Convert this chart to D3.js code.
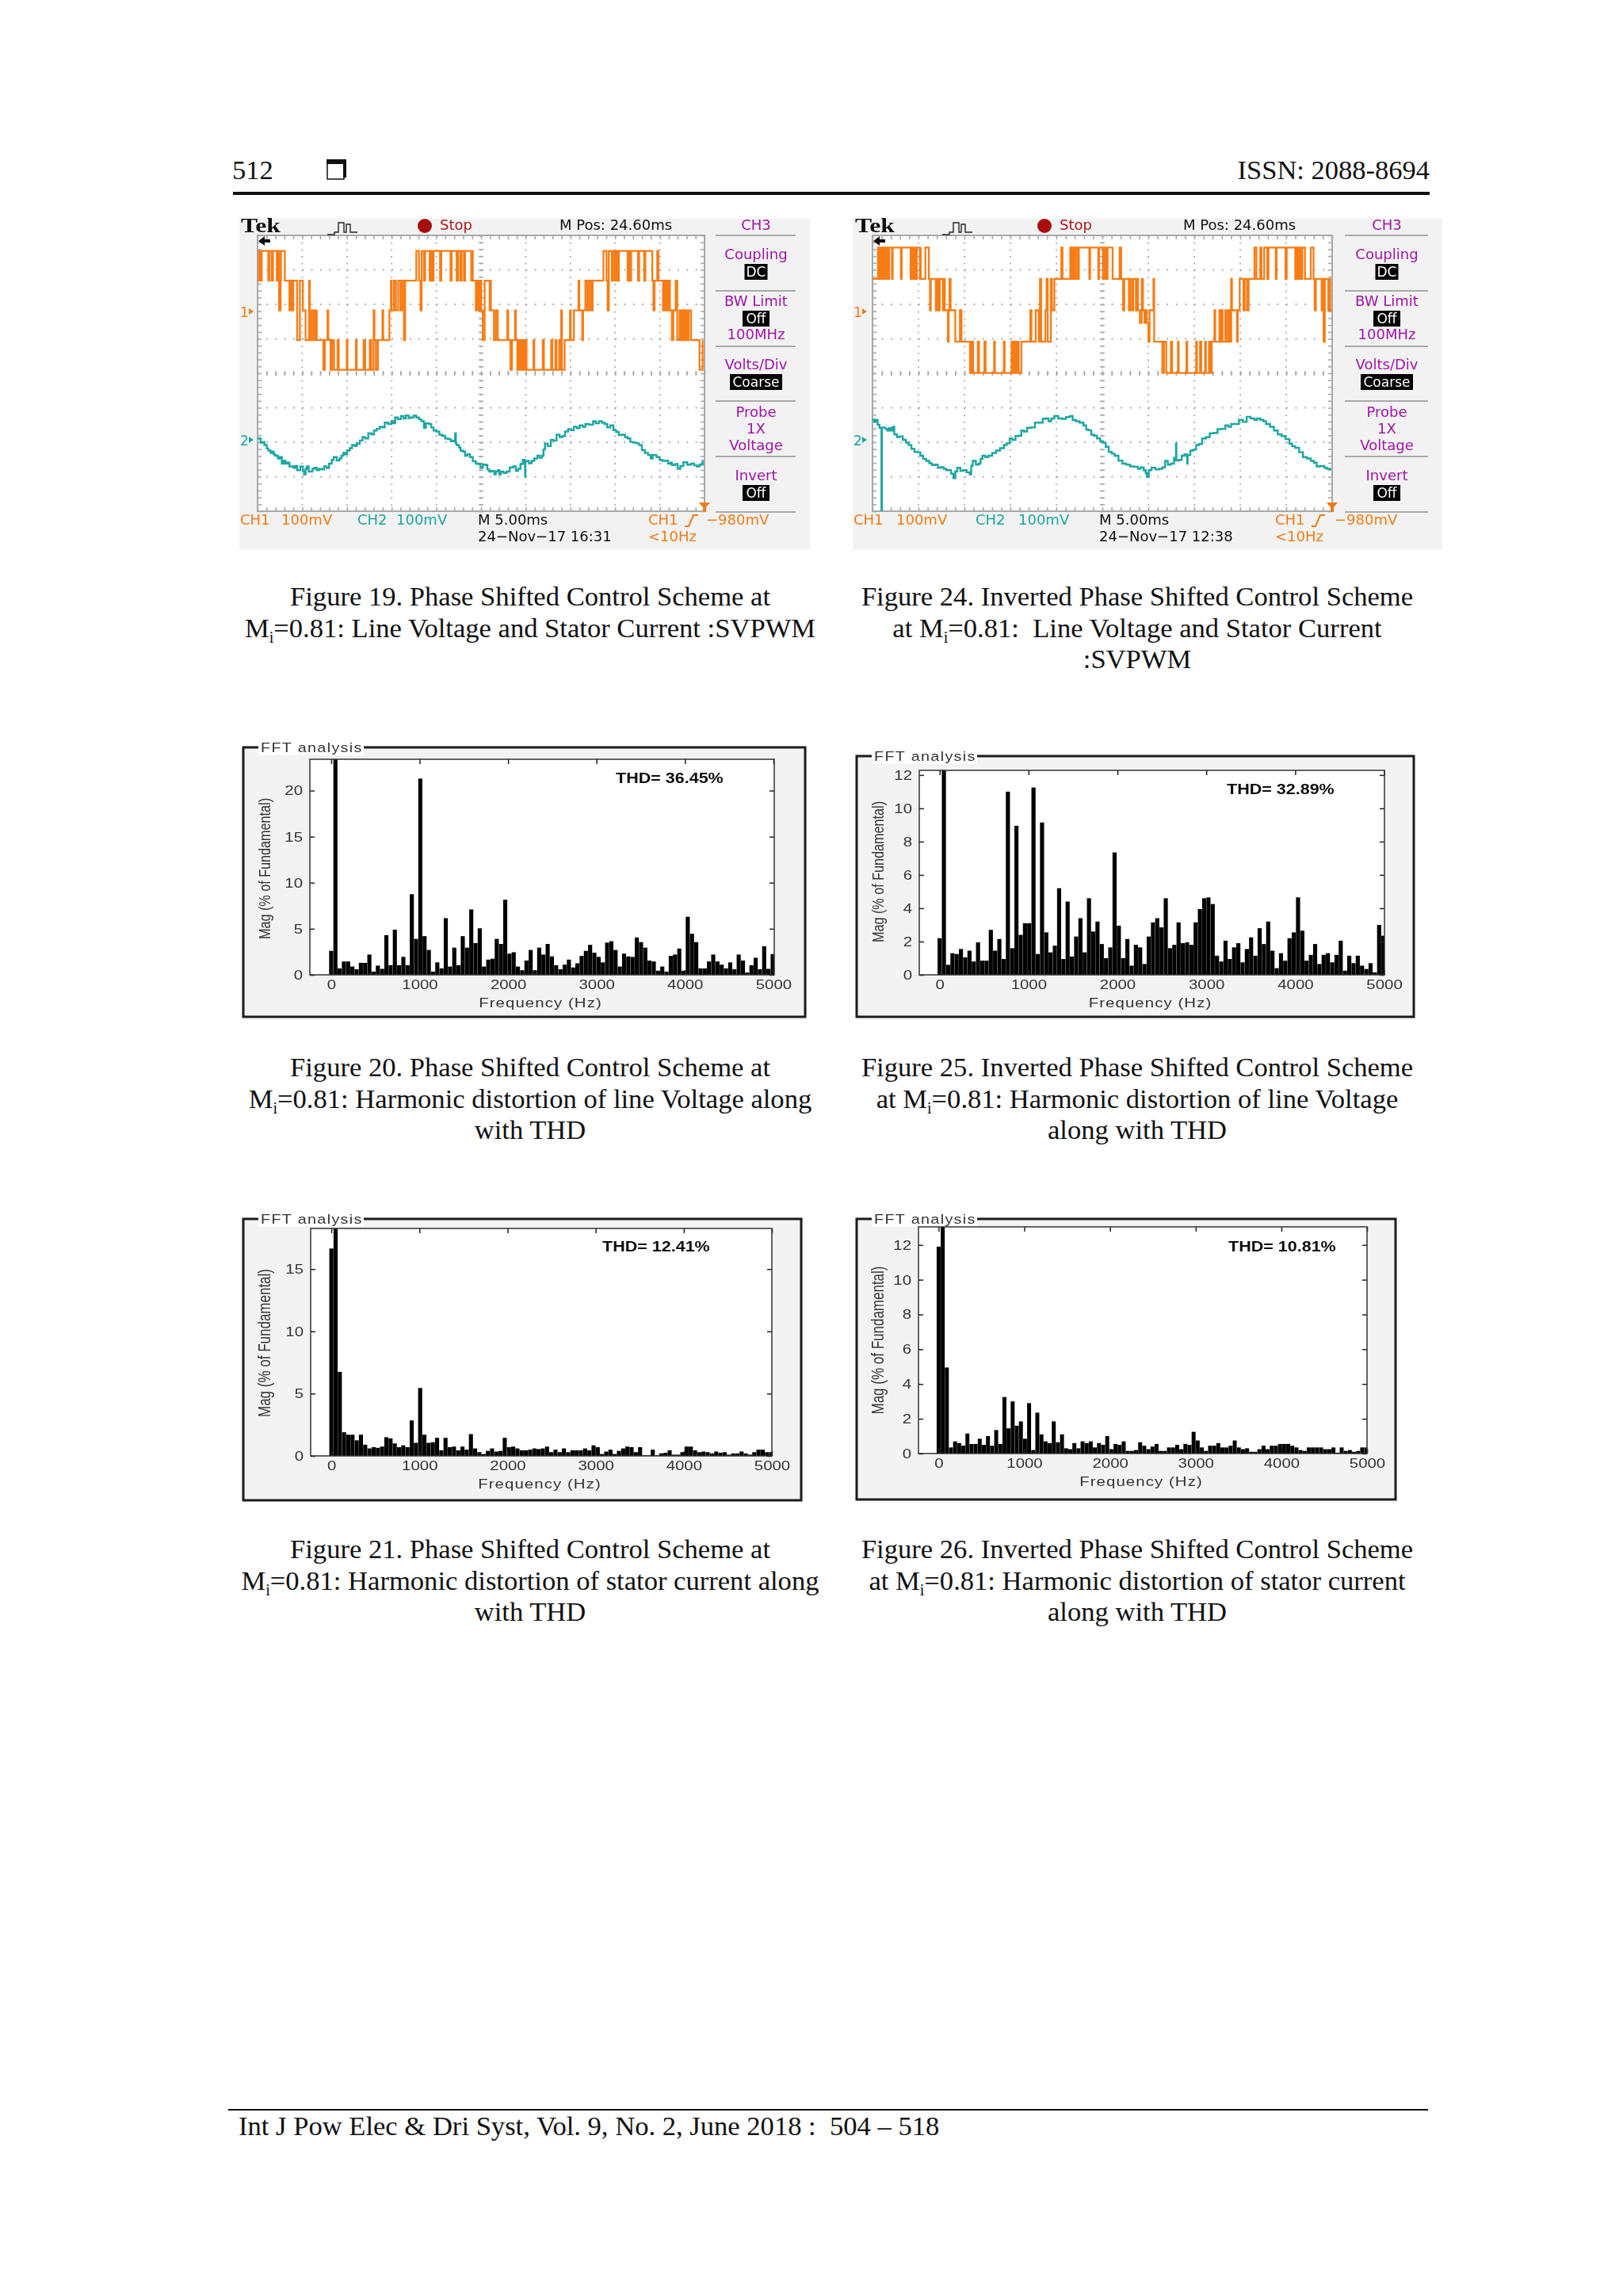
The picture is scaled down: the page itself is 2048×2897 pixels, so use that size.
<!DOCTYPE html>
<html><head><meta charset="utf-8">
<script src="https://cdnjs.cloudflare.com/ajax/libs/d3/7.8.5/d3.min.js"></script>
<style>
html,body{margin:0;padding:0;background:#fff}
svg{display:block}
</style></head><body>
<svg id="page" width="2048" height="2897"></svg>
<script>
// ---- FFT spectra: magnitude (% of fundamental) for consecutive 48 Hz bins, 100 = off-scale fundamental
const fft20 = [2.6,100,0.7,1.45,1.45,0.9,0.6,1.3,1.3,2.2,0.35,1.0,0.65,4.3,1.05,4.9,1.05,1.95,1.05,8.75,3.9,21.3,4.2,2.7,0.35,1.35,0.7,6.15,0.9,2.95,1.05,4.2,2.95,7.1,3.45,5.05,0.9,1.65,1.75,3.9,3.35,8.15,2.3,2.45,0.9,0.5,1.55,2.7,0.5,2.95,2.2,3.35,2.0,1.05,0.6,1.1,1.65,0.8,1.25,2.05,2.6,3.25,2.4,1.95,1.35,3.5,3.65,2.7,0.9,2.3,2.0,1.95,4.05,3.55,2.95,1.55,1.45,0.45,0.9,0.35,2.05,2.2,2.85,0.45,6.3,4.45,3.55,0.7,0.7,1.45,2.2,1.45,1.1,0.7,1.35,0.6,2.2,1.55,0.25,1.05,1.85,0.6,3.1,0.65,2.25];
const fft25 = [2.2,100,0.6,1.3,1.25,1.55,1.05,1.45,0.8,1.95,0.85,0.85,2.7,1.45,2.15,0.95,11.0,1.6,8.95,2.4,3.1,3.1,11.25,1.25,9.15,2.55,1.35,1.75,5.2,0.95,4.4,1.1,2.3,3.4,1.35,4.6,2.6,3.2,1.85,1.0,1.65,7.35,2.95,1.0,2.15,0.55,1.8,1.65,0.65,2.3,3.15,3.4,2.85,4.6,1.6,1.8,3.15,1.9,1.95,1.8,3.15,3.95,4.6,4.65,4.25,1.15,0.8,2.05,0.95,1.65,1.9,0.75,1.55,2.25,1.15,2.8,1.85,3.2,1.45,0.4,1.3,0.85,2.2,2.55,4.65,2.65,0.85,1.2,1.85,0.65,1.2,1.3,0.75,1.2,2.05,0.25,1.15,0.7,1.15,0.55,0.35,0.7,0.15,3.0,2.35];
const fft21 = [16.65,100,6.75,1.9,1.7,1.7,1.25,1.7,0.9,0.6,0.7,0.65,0.75,1.5,1.4,1.0,0.7,0.85,0.7,2.85,1.05,5.45,1.7,1.05,1.1,1.45,0.45,1.45,0.7,0.75,0.45,0.75,0.5,1.75,0.6,0.3,0.15,0.4,0.6,0.35,0.4,1.45,0.7,0.75,0.6,0.45,0.45,0.5,0.6,0.55,0.6,0.75,0.3,0.5,0.3,0.6,0.3,0.45,0.45,0.45,0.6,0.45,0.85,0.7,0.15,0.35,0.5,0.15,0.4,0.6,0.75,0.7,0.3,0.7,0.05,0.05,0.5,0.05,0.2,0.25,0.45,0.1,0.1,0.3,0.75,0.75,0.45,0.3,0.35,0.3,0.2,0.35,0.25,0.3,0.1,0.2,0.2,0.35,0.2,0.1,0.3,0.5,0.5,0.3,0.3];
const fft26 = [11.9,100,4.95,0.35,0.7,0.6,0.45,1.15,0.55,0.55,0.85,0.5,1.0,0.45,1.35,0.55,3.25,1.45,3.0,1.6,1.85,0.85,2.9,0.2,2.35,1.1,0.7,0.6,1.85,0.65,1.1,0.3,0.25,0.6,0.3,0.7,0.6,0.7,0.35,0.6,0.5,1.0,0.25,0.55,0.5,0.7,0.15,0.15,0.2,0.65,0.45,0.25,0.4,0.55,0.15,0.15,0.35,0.35,0.5,0.25,0.55,0.5,1.25,0.75,0.35,0.15,0.45,0.45,0.6,0.35,0.35,0.45,0.75,0.35,0.25,0.3,0.1,0.1,0.25,0.45,0.25,0.45,0.45,0.55,0.55,0.55,0.45,0.35,0.2,0.15,0.35,0.35,0.35,0.35,0.25,0.25,0.35,0.05,0.35,0.15,0.2,0.1,0.15,0.35,0.35];
const freqTicks = [0,1000,2000,3000,4000,5000];
const magTicks20 = [0,5,10,15,20];
const magTicks25 = [0,2,4,6,8,10,12];
const magTicks21 = [0,5,10,15];
const magTicks26 = [0,2,4,6,8,10,12];

// ---- Oscilloscope traces. CH1: [record sample, inverter voltage level 0..4] step events
const ch1Fig19 = [[0,3],[4,4],[8,3],[11,4],[28,3],[31,4],[37,3],[40,4],[50,3],[53,4],[56,2],[60,3],[61,4],[71,3],[83,2],[86,3],[90,2],[93,3],[103,1],[110,3],[118,2],[125,1],[134,3],[136,1],[141,2],[146,1],[150,2],[154,1],[171,0],[175,1],[182,2],[184,1],[190,0],[194,1],[199,0],[208,1],[211,0],[232,1],[234,0],[256,1],[258,0],[276,1],[280,0],[292,1],[296,0],[302,2],[304,1],[308,0],[313,1],[325,2],[327,1],[343,2],[347,3],[349,2],[355,3],[360,2],[366,3],[372,2],[376,3],[381,1],[384,3],[413,4],[420,3],[424,2],[427,4],[433,3],[436,4],[448,3],[451,4],[454,3],[458,4],[475,3],[478,4],[502,3],[505,4],[518,3],[522,4],[528,3],[531,4],[537,3],[540,4],[556,3],[558,4],[560,3],[568,2],[572,3],[576,2],[580,3],[582,2],[586,1],[591,3],[604,2],[606,3],[607,2],[615,1],[620,2],[625,1],[650,2],[652,1],[658,0],[662,1],[670,2],[672,1],[676,0],[680,1],[683,0],[685,1],[688,0],[691,1],[694,0],[697,1],[700,0],[718,1],[720,0],[742,1],[745,0],[764,1],[767,0],[775,1],[778,0],[785,1],[788,0],[790,2],[792,0],[799,1],[813,2],[815,1],[823,2],[835,3],[837,2],[845,1],[847,2],[853,3],[858,2],[863,3],[868,2],[872,3],[900,4],[908,3],[911,2],[914,4],[922,3],[925,4],[930,3],[934,4],[936,3],[940,4],[963,3],[966,4],[969,3],[972,4],[990,3],[993,4],[1006,3],[1009,4],[1027,3],[1030,2],[1033,3],[1040,4],[1043,3],[1055,2],[1058,3],[1060,2],[1062,3],[1066,2],[1070,3],[1073,2],[1078,1],[1082,2],[1088,3],[1092,1],[1098,2],[1102,1],[1106,2],[1110,1],[1114,2],[1118,1],[1122,2],[1128,1],[1150,0],[1158,1]];
const ch1Fig24 = [[0,3],[10,3],[14,4],[18,3],[21,4],[24,3],[26,4],[29,3],[31,4],[34,3],[36,4],[40,3],[43,4],[50,3],[52,4],[73,3],[75,4],[98,3],[101,4],[104,3],[107,4],[111,3],[114,4],[122,3],[124,4],[124,3],[136,4],[145,3],[148,2],[150,3],[163,2],[166,3],[170,2],[173,3],[181,2],[184,3],[186,2],[194,1],[196,2],[198,3],[201,2],[213,1],[225,2],[229,1],[251,0],[255,1],[259,0],[271,1],[274,0],[288,1],[291,0],[313,1],[315,0],[338,1],[340,0],[358,1],[361,0],[364,1],[366,0],[369,1],[371,0],[374,1],[376,0],[383,1],[406,2],[409,1],[420,2],[428,1],[431,3],[434,1],[445,2],[448,3],[451,1],[459,3],[462,2],[468,3],[486,4],[489,3],[509,4],[513,3],[516,4],[519,3],[523,4],[528,3],[531,4],[558,3],[560,4],[581,3],[583,4],[593,3],[595,4],[598,3],[600,4],[603,3],[605,4],[618,3],[636,4],[640,3],[645,2],[648,3],[660,2],[663,3],[668,2],[671,3],[678,2],[681,3],[683,2],[688,1.6],[693,3],[696,2],[700,1.6],[703,2],[706,1.6],[710,1],[713,2],[723,3],[725,1],[746,0],[750,1],[756,0],[768,1],[771,0],[786,1],[788,0],[808,1],[810,0],[833,1],[835,0],[843,1],[846,0],[856,1],[858,0],[866,1],[870,0],[873,1],[880,2],[882,1],[893,2],[896,1],[898,2],[901,1],[908,2],[911,1],[916,2],[920,1],[923,3],[925,2],[938,1],[940,2],[945,3],[955,2],[958,3],[964,2],[968,3],[983,4],[988,3],[998,4],[1001,3],[1008,4],[1016,3],[1019,4],[1038,3],[1040,4],[1063,3],[1066,4],[1088,3],[1091,4],[1094,3],[1096,4],[1099,3],[1101,4],[1104,3],[1106,4],[1113,3],[1128,4],[1135,3],[1138,2],[1141,3],[1156,2],[1158,3],[1161,1],[1164,3],[1173,2],[1175,3],[1178,2],[1183,2]];
// CH2: [record sample, stator current probe voltage in mV]
const ch2Fig19 = [[72,4],[80,-8],[86,-6],[90,-15],[96,-25],[100,-31],[106,-38],[110,-34],[114,-42],[118,-46],[125,-54],[130,-50],[135,-69],[140,-61],[145,-69],[150,-66],[155,-77],[165,-81],[170,-76],[175,-88],[183,-77],[190,-90],[193,-100],[197,-84],[200,-77],[205,-92],[210,-92],[215,-84],[220,-81],[226,-88],[232,-84],[238,-86],[245,-77],[252,-82],[258,-69],[265,-58],[270,-50],[278,-60],[285,-54],[290,-46],[295,-38],[300,-42],[305,-31],[312,-24],[318,-15],[325,-18],[330,-11],[338,-2],[345,8],[352,4],[360,19],[368,16],[375,27],[382,32],[390,38],[397,36],[403,50],[412,46],[420,54],[425,48],[430,65],[437,60],[445,69],[452,62],[458,71],[465,63],[470,65],[478,70],[485,65],[492,60],[498,54],[505,35],[510,48],[518,46],[524,36],[530,27],[537,24],[545,15],[552,12],[560,4],[568,2],[575,-4],[582,-2],[586,19],[588,-10],[590,-15],[596,-22],[600,-31],[606,-34],[612,-46],[618,-42],[625,-50],[632,-62],[640,-69],[646,-70],[652,-81],[658,-72],[665,-73],[670,-86],[675,-92],[681,-90],[688,-100],[692,-92],[697,-88],[701,-100],[705,-92],[712,-96],[720,-92],[728,-80],[737,-77],[744,-90],[750,-84],[756,-70],[762,-58],[767,-66],[768,-107],[769,-62],[772,-61],[778,-68],[785,-61],[792,-54],[800,-46],[806,-52],[812,-46],[816,-28],[820,-11],[827,-18],[835,0],[842,-2],[850,15],[858,8],[865,11],[872,24],[880,31],[888,28],[895,38],[903,34],[910,42],[918,38],[925,46],[935,44],[945,54],[952,48],[960,54],[968,50],[975,46],[982,36],[990,42],[998,28],[1005,23],[1012,14],[1020,15],[1028,8],[1035,4],[1042,-6],[1050,-8],[1058,-10],[1065,-15],[1072,-30],[1080,-38],[1088,-44],[1095,-54],[1100,-44],[1110,-50],[1118,-58],[1125,-61],[1132,-60],[1140,-69],[1146,-66],[1150,-73],[1158,-70],[1165,-84],[1172,-76],[1180,-65],[1190,-72],[1200,-69],[1208,-74],[1215,-77],[1222,-72],[1230,-58]];
const ch2Fig24 = [[62,59],[66,52],[70,58],[75,44],[80,35],[85,36],[85,-207],[86,36],[90,36],[95,32],[100,27],[105,34],[110,27],[114,38],[118,16],[125,8],[132,10],[140,0],[148,-8],[155,-15],[162,-26],[170,-35],[178,-36],[185,-46],[192,-55],[200,-61],[208,-68],[215,-73],[222,-72],[230,-81],[238,-79],[245,-84],[252,-88],[258,-88],[264,-98],[270,-111],[275,-92],[280,-81],[288,-90],[295,-88],[304,-94],[312,-100],[316,-75],[320,-61],[328,-72],[335,-69],[340,-55],[345,-46],[352,-50],[360,-46],[370,-38],[380,-31],[390,-24],[400,-15],[407,-10],[415,4],[422,0],[430,11],[438,12],[445,27],[452,24],[460,35],[470,36],[480,50],[490,50],[500,61],[507,62],[515,54],[522,62],[530,69],[540,62],[550,61],[560,66],[570,69],[577,58],[585,54],[595,50],[605,42],[612,30],[618,28],[625,15],[632,12],[640,4],[648,-4],[655,-8],[662,-20],[670,-35],[678,-40],[685,-46],[695,-60],[705,-69],[715,-72],[725,-77],[735,-78],[745,-84],[752,-80],[760,-88],[765,-96],[768,-107],[773,-88],[780,-81],[790,-86],[800,-84],[808,-80],[815,-61],[822,-72],[830,-69],[838,-52],[842,-60],[843,-11],[844,-60],[850,-58],[858,-46],[865,-42],[871,-48],[872,-69],[873,-44],[880,-31],[888,-28],[895,-15],[902,-12],[910,4],[920,8],[930,19],[940,20],[950,31],[960,32],[970,42],[978,38],[985,46],[995,46],[1005,58],[1015,52],[1025,67],[1035,62],[1045,58],[1052,62],[1060,58],[1068,54],[1075,46],[1085,38],[1095,27],[1105,16],[1115,11],[1125,2],[1135,-11],[1142,-18],[1150,-23],[1160,-36],[1170,-50],[1180,-54],[1190,-61],[1198,-66],[1205,-77],[1215,-76],[1225,-81],[1232,-84],[1240,-88]];
const figure19 = ["Figure 19. Phase Shifted Control Scheme at","M_i=0.81: Line Voltage and Stator Current :SVPWM"];
const figure24 = ["Figure 24. Inverted Phase Shifted Control Scheme","at M_i=0.81:  Line Voltage and Stator Current",":SVPWM"];
const figure20 = ["Figure 20. Phase Shifted Control Scheme at","M_i=0.81: Harmonic distortion of line Voltage along","with THD"];
const figure25 = ["Figure 25. Inverted Phase Shifted Control Scheme","at M_i=0.81: Harmonic distortion of line Voltage","along with THD"];
const figure21 = ["Figure 21. Phase Shifted Control Scheme at","M_i=0.81: Harmonic distortion of stator current along","with THD"];
const figure26 = ["Figure 26. Inverted Phase Shifted Control Scheme","at M_i=0.81: Harmonic distortion of stator current","along with THD"];

const svg = d3.select("#page");
const defs = svg.append("defs");
defs.append("filter").attr("id","soft").append("feGaussianBlur").attr("stdDeviation",0.45);
const SANS="'Liberation Sans',Arial,sans-serif", SERIF="'Liberation Serif','Times New Roman',serif", SCOPE="'DejaVu Sans',sans-serif";

// ---- page furniture
function ptext(x,y,t,size,anchor){return svg.append("text").attr("x",x).attr("y",y).attr("font-family",SERIF).attr("font-size",size).attr("text-anchor",anchor||"start").attr("fill","#111").style("white-space","pre").text(t);}
ptext(293,226,"512",34.5);
ptext(1804,226,"ISSN: 2088-8694",34.5,"end");
svg.append("rect").attr("x",294).attr("y",242).attr("width",1510).attr("height",4).attr("fill","#111");
svg.append("rect").attr("x",413).attr("y",203).attr("width",21).attr("height",23).attr("fill","none").attr("stroke","#111").attr("stroke-width",1.5);
svg.append("rect").attr("x",412).attr("y",201).attr("width",24).attr("height",6).attr("fill","#111");
svg.append("rect").attr("x",433).attr("y",201).attr("width",4).attr("height",23).attr("fill","#111");
svg.append("rect").attr("x",288).attr("y",2661).attr("width",1514).attr("height",2).attr("fill","#111");
ptext(301,2694,"Int J Pow Elec & Dri Syst, Vol. 9, No. 2, June 2018 :  504 – 518",34.6);

function caption(lines,cx,y0){
  lines.forEach((ln,i)=>{
    const t=svg.append("text").attr("x",cx).attr("y",y0+i*39.6).attr("text-anchor","middle").attr("font-family",SERIF).attr("font-size",34.6).attr("fill","#111").style("white-space","pre");
    const p=ln.split("_i");
    if(p.length===2){
      t.append("tspan").text(p[0]);
      t.append("tspan").attr("font-size",20).attr("dy",7).text("i");
      t.append("tspan").attr("dy",-7).text(p[1]);
    } else t.text(ln);
  });
}
caption(figure19,669,764);
caption(figure24,1435,764);
caption(figure20,669,1358);
caption(figure25,1435,1358);
caption(figure21,669,1966);
caption(figure26,1435,1966);

// ---- FFT panels
function fft(o){
  const g=svg.append("g").attr("filter","url(#soft)");
  const [fx0,fy0,fx1,fy1]=o.frame,[px0,py0,px1,py1]=o.plot;
  g.append("rect").attr("x",fx0).attr("y",fy0).attr("width",fx1-fx0).attr("height",fy1-fy0).attr("fill","#f3f3f3").attr("stroke","#1c1c1c").attr("stroke-width",3);
  g.append("rect").attr("x",fx0+19).attr("y",fy0-10).attr("width",133).attr("height",20).attr("fill","#fff");
  g.append("text").attr("transform",`translate(${fx0+22},${fy0+6}) scale(1.2,1)`).attr("font-family",SANS).attr("font-size",16.5).attr("letter-spacing",1.1).attr("fill","#333").text("FFT analysis");
  g.append("rect").attr("x",px0).attr("y",py0).attr("width",px1-px0).attr("height",py1-py0).attr("fill","#fff");
  const x=d3.scaleLinear().domain(o.xDomain).range([px0,px1]);
  const y=d3.scaleLinear().domain([0,o.yMax]).range([py1,py0]);
  const step=48, bw=x(step)-x(0);
  const clipId="clip"+o.id;
  defs.append("clipPath").attr("id",clipId).append("rect").attr("x",px0).attr("y",py0).attr("width",px1-px0).attr("height",py1-py0);
  g.append("g").attr("clip-path",`url(#${clipId})`).selectAll("rect").data(o.values).join("rect")
    .attr("x",(d,i)=>x(i*step)-bw*0.48).attr("width",bw*0.96)
    .attr("y",d=>y(d)).attr("height",d=>y(0)-y(d)).attr("fill","#000");
  const style=a=>{a.select(".domain").remove();a.selectAll("line").attr("stroke","#222").attr("stroke-width",1.5);};
  const ax=g.append("g").attr("transform",`translate(0,${py1})`).call(d3.axisBottom(x).tickValues(freqTicks).tickSize(-6).tickPadding(6).tickFormat(d3.format("d")));
  style(ax);
  ax.selectAll("text").attr("font-family",SANS).attr("font-size",17).attr("fill","#333").attr("transform","scale(1.2,1)").attr("x",0);
  g.append("g").attr("transform",`translate(0,${py0})`).call(d3.axisTop(x).tickValues(freqTicks).tickSize(-6).tickFormat("")).call(style);
  const ay=g.append("g").attr("transform",`translate(${px0},0)`).call(d3.axisLeft(y).tickValues(o.yTicks).tickSize(-6).tickFormat(d3.format("d")));
  style(ay);
  ay.selectAll("text").attr("font-family",SANS).attr("font-size",17).attr("fill","#333").attr("x",0).attr("transform","translate(-9,0) scale(1.2,1)");
  g.append("g").attr("transform",`translate(${px1},0)`).call(d3.axisRight(y).tickValues(o.yTicks).tickSize(-6).tickFormat("")).call(style);
  g.append("rect").attr("x",px0).attr("y",py0).attr("width",px1-px0).attr("height",py1-py0).attr("fill","none").attr("stroke","#333").attr("stroke-width",1.5);
  g.append("text").attr("transform",`translate(${(px0+px1)/2-2},${py1+41}) scale(1.2,1)`).attr("text-anchor","middle").attr("font-family",SANS).attr("font-size",17).attr("letter-spacing",0.9).attr("fill","#333").text("Frequency (Hz)");
  g.append("text").attr("transform",`translate(${fx0+34},${(py0+py1)/2+o.ylabDy}) scale(1.28,1) rotate(-90)`).attr("text-anchor","middle").attr("font-family",SANS).attr("font-size",o.ylabSize).attr("fill","#333").text("Mag (% of Fundamental)");
  g.append("text").attr("transform",`translate(${o.thd[0]},${o.thd[1]}) scale(1.23,1)`).attr("font-family",SANS).attr("font-weight","bold").attr("font-size",17.5).attr("fill","#111").text(o.thd[2]);
}
fft({id:20,frame:[307,943,1016,1283],plot:[391,958,977,1230],xDomain:[-241,5010],yMax:23.4,yTicks:magTicks20,values:fft20,ylabSize:16.2,ylabDy:2,thd:[777,988,"THD= 36.45%"]});
fft({id:25,frame:[1081,954,1784,1283],plot:[1160,972,1747,1230],xDomain:[-229,5004],yMax:12.28,yTicks:magTicks25,values:fft25,ylabSize:16.2,ylabDy:-1,thd:[1548,1002,"THD= 32.89%"]});
fft({id:21,frame:[307,1538,1011,1893],plot:[392,1550,974,1837],xDomain:[-235,5000],yMax:18.26,yTicks:magTicks21,values:fft21,ylabSize:17,ylabDy:1,thd:[760,1579,"THD= 12.41%"]});
fft({id:26,frame:[1081,1538,1761,1892],plot:[1159,1548,1725,1834],xDomain:[-235,5000],yMax:13.04,yTicks:magTicks26,values:fft26,ylabSize:17,ylabDy:0,thd:[1550,1579,"THD= 10.81%"]});

// ---- Oscilloscope panels
function scope(o){
  const g=svg.append("g").attr("filter","url(#soft)");
  const [bx0,by0,bx1,by1]=o.bg,[gx0,gy0,gx1,gy1]=o.grid;
  g.append("rect").attr("x",bx0).attr("y",by0).attr("width",bx1-bx0).attr("height",by1-by0).attr("fill","#f2f2f2");
  g.append("rect").attr("x",gx0).attr("y",gy0).attr("width",gx1-gx0).attr("height",gy1-gy0).attr("fill","#fff").attr("stroke","#a8a8a8").attr("stroke-width",2);
  const dx=d3.scaleLinear().domain([0,10]).range([gx0,gx1]);
  const dy=d3.scaleLinear().domain([0,8]).range([gy0,gy1]);
  const minorX=(gx1-gx0)/50, minorY=(gy1-gy0)/40;
  g.selectAll(".vg").data(d3.range(1,10)).join("line").attr("x1",d=>dx(d)).attr("x2",d=>dx(d)).attr("y1",gy0).attr("y2",gy1).attr("stroke","#a8a8a8").attr("stroke-width",1.8).attr("stroke-dasharray",`1.8 ${minorY-1.8}`);
  g.selectAll(".hg").data(d3.range(1,8)).join("line").attr("x1",gx0).attr("x2",gx1).attr("y1",d=>dy(d)).attr("y2",d=>dy(d)).attr("stroke","#a8a8a8").attr("stroke-width",1.8).attr("stroke-dasharray",`1.8 ${minorX-1.8}`);
  const mx=d3.range(0,51).map(d=>d/5), my=d3.range(0,41).map(d=>d/5);
  const tick=(ax)=>{ax.select(".domain").remove();ax.selectAll("text").remove();ax.selectAll("line").attr("stroke","#a8a8a8").attr("stroke-width",1.6);};
  g.append("g").attr("transform",`translate(0,${gy0})`).call(d3.axisTop(dx).tickValues(mx).tickSize(-5)).call(tick);
  g.append("g").attr("transform",`translate(0,${gy1})`).call(d3.axisBottom(dx).tickValues(mx).tickSize(-5)).call(tick);
  g.append("g").attr("transform",`translate(${gx0},0)`).call(d3.axisLeft(dy).tickValues(my).tickSize(-5)).call(tick);
  g.append("g").attr("transform",`translate(${gx1},0)`).call(d3.axisRight(dy).tickValues(my).tickSize(-5)).call(tick);
  g.append("g").attr("transform",`translate(0,${dy(4)+3})`).call(d3.axisBottom(dx).tickValues(mx).tickSize(-6)).call(tick);
  g.append("g").attr("transform",`translate(${dx(5)-3},0)`).call(d3.axisLeft(dy).tickValues(my).tickSize(-6)).call(tick);

  const t=d3.scaleLinear().domain(o.sampleDomain).range([gx0,gx1]);
  const lev=d3.scaleLinear().domain([0,4]).range(o.levelRange);
  const ch2=d3.scaleLinear().domain([-100,100]).range([o.ch2Ref+43.47,o.ch2Ref-43.47]);
  const clipId="sc"+o.id;
  defs.append("clipPath").attr("id",clipId).append("rect").attr("x",gx0).attr("y",gy0).attr("width",gx1-gx0).attr("height",gy1-gy0);
  const tr=g.append("g").attr("clip-path",`url(#${clipId})`);
  tr.append("path").attr("d",d3.line().x(d=>t(d[0])).y(d=>lev(d[1])).curve(d3.curveStepAfter)(o.ch1)).attr("fill","none").attr("stroke","#f87c12").attr("stroke-width",2.3);
  const t2=d3.scaleLinear().domain(o.ch2Domain).range([gx0,gx1]);
  tr.append("path").attr("d",d3.line().x(d=>t2(d[0])).y(d=>ch2(d[1])).curve(d3.curveStepAfter)(o.ch2)).attr("fill","none").attr("stroke","#1ba6a0").attr("stroke-width",2.4);

  const txt=(x,y,s,fill,anchor,size)=>g.append("text").attr("x",x).attr("y",y).attr("font-family",SCOPE).attr("font-size",size||18).attr("fill",fill).attr("text-anchor",anchor||"start").text(s);
  const PUR="#a012a8", ORG="#f07c18", TEAL="#1ba6a0";
  const c=o.panelC;
  o.panelLines.forEach(y=>g.append("rect").attr("x",o.panelX[0]).attr("y",y-1).attr("width",o.panelX[1]-o.panelX[0]).attr("height",2).attr("fill","#aaa"));
  txt(c,290,"CH3",PUR,"middle");
  txt(c,327,"Coupling",PUR,"middle");
  txt(c,386,"BW Limit",PUR,"middle");
  txt(c,428,"100MHz",PUR,"middle");
  txt(c,466,"Volts/Div",PUR,"middle");
  txt(c,526,"Probe",PUR,"middle");
  txt(c,547,"1X",PUR,"middle");
  txt(c,568,"Voltage",PUR,"middle");
  txt(c,606,"Invert",PUR,"middle");
  const box=(yc,s,w)=>{g.append("rect").attr("x",c-w/2).attr("y",yc-10).attr("width",w).attr("height",20).attr("fill","#000");txt(c,yc+6,s,"#fff","middle",17);};
  box(343,"DC",29);box(402,"Off",34);box(482,"Coarse",66);box(622,"Off",34);
  g.append("text").attr("transform",`translate(${o.tek},293) scale(1.22,1)`).attr("font-family",SERIF).attr("font-weight","bold").attr("font-size",26).attr("fill","#111").text("Tek");
  g.append("path").attr("d",`M${o.pulse} 296 h9 v-3 h5 v-12 h7 v12 h3 v-10 h5 v10 h9`).attr("fill","none").attr("stroke","#222").attr("stroke-width",1.4);
  g.append("circle").attr("cx",o.stop).attr("cy",285).attr("r",9).attr("fill","#a80e10");
  txt(o.stop+19,290,"Stop","#a81818");
  txt(o.mpos,290,"M Pos: 24.60ms","#111");
  txt(o.b[0],662,"CH1",ORG);
  txt(o.b[1],662,"100mV",ORG);
  txt(o.b[2],662,"CH2",TEAL);
  txt(o.b[3],662,"100mV",TEAL);
  txt(o.b[4],662,"M 5.00ms","#111");
  txt(o.b[4],683,o.stamp,"#111");
  txt(o.b[5],662,"CH1",ORG);
  g.append("path").attr("d",`M${o.b[5]+46} 664 h5 l6 -14 h6`).attr("fill","none").attr("stroke",ORG).attr("stroke-width",2);
  txt(o.b[6],662,"−980mV",ORG);
  txt(o.b[5],683,"<10Hz",ORG);
  txt(o.mark,400,"1",ORG,"start",17);
  g.append("path").attr("d",`M${o.mark+11} 389 l6 4 l-6 4 z`).attr("fill",ORG);
  txt(o.mark,562,"2",TEAL,"start",17);
  g.append("path").attr("d",`M${o.mark+11} 551 l6 4 l-6 4 z`).attr("fill",TEAL);
  g.append("path").attr("d",`M${gx0+1} 304 l8 -6 v4 h7 v4 h-7 v4 z`).attr("fill","#111");
  g.append("path").attr("d",`M${gx1-7} 634 h14 l-5 6 v6 h-4 v-6 z`).attr("fill",ORG);
}
const panelRules=[297,367,437,506,576,646];
scope({id:19,bg:[302,276,1022,693],grid:[325,297,889,645],sampleDomain:[0,1163],ch2Domain:[72,1235],levelRange:[466.7,316.7],ch2Ref:555,ch1:ch1Fig19,ch2:ch2Fig19,panelC:954,panelX:[903,1004],panelLines:panelRules,tek:304,pulse:413,stop:536,mpos:706,b:[303,355,451,500,603,818,891],stamp:"24−Nov−17 16:31",mark:303});
scope({id:24,bg:[1076,276,1819,693],grid:[1101,297,1681,645],sampleDomain:[0,1183],ch2Domain:[62,1245],levelRange:[470.7,312.3],ch2Ref:555,ch1:ch1Fig24,ch2:ch2Fig24,panelC:1750,panelX:[1697,1802],panelLines:panelRules,tek:1079,pulse:1189,stop:1318,mpos:1493,b:[1077,1131,1231,1285,1387,1609,1684],stamp:"24−Nov−17 12:38",mark:1077});
</script>
</body></html>
